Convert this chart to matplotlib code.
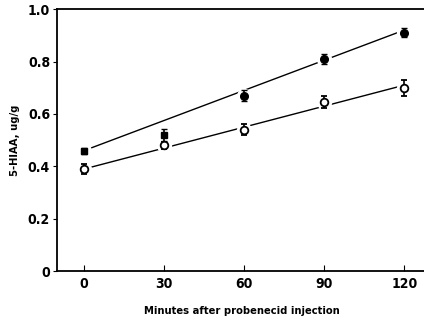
import numpy as np
import matplotlib.pyplot as plt

minutes = [0, 30, 60, 90, 120]
# filled symbols (upper series)
upper = [0.46, 0.52, 0.67, 0.81, 0.91]
upper_err = [0.012, 0.022, 0.02, 0.02, 0.018]
# open symbols (lower series)
lower = [0.39, 0.48, 0.54, 0.645, 0.70]
lower_err = [0.02, 0.015, 0.02, 0.022, 0.03]
# regression lines (value at 0 and 120 min)
fit_x = [0, 120]
upper_fit = [0.46, 0.92]
lower_fit = [0.39, 0.71]

xticks = [0, 30, 60, 90, 120]
yticks = [0, 0.2, 0.4, 0.6, 0.8, 1.0]
ylabels = ['0', '0.2', '0.4', '0.6', '0.8', '1.0']

plt.rcParams['font.family'] = ['DejaVu Sans']
plt.rcParams['font.stretch'] = 'condensed'
plt.rcParams['font.weight'] = 'bold'

fig = plt.figure(figsize=(4.24, 3.22), dpi=100)
ax = fig.add_axes([0.1344, 0.157, 0.87, 0.815])

ax.plot(fit_x, upper_fit, color='black', lw=1.0, zorder=1)
ax.plot(fit_x, lower_fit, color='black', lw=1.0, zorder=1)

# white halo behind markers, leaves a gap in the lines
ax.plot(minutes, upper, 'o', ms=10, color='white', zorder=2)
ax.plot(minutes, lower, 'o', ms=10, color='white', zorder=2)

ax.errorbar(minutes[:2], upper[:2], yerr=upper_err[:2], fmt='s', ms=5,
            color='black', capsize=2.5, elinewidth=1.2, zorder=4)
ax.errorbar(minutes[2:], upper[2:], yerr=upper_err[2:], fmt='o', ms=5.5,
            color='black', capsize=2.5, elinewidth=1.2, zorder=4)
ax.errorbar(minutes, lower, yerr=lower_err, fmt='o', ms=5.5, mfc='white',
            mec='black', mew=1.3, color='black', capsize=2.5,
            elinewidth=1.2, zorder=3)

ax.set_xlim(-10, 128)
ax.set_ylim(0, 1.0)
ax.set_xticks(xticks)
ax.set_yticks(yticks)
ax.set_yticklabels(ylabels)
ax.spines['right'].set_visible(False)
for s in ['left', 'bottom', 'top']:
    ax.spines[s].set_linewidth(1.3)
ax.tick_params(axis='x', direction='in', length=4, labelsize=10, pad=4)
ax.tick_params(axis='y', direction='out', length=3, labelsize=10, pad=2)

ax.set_ylabel('5-HIAA, ug/g', fontsize=8, fontweight='bold')
ax.yaxis.set_label_coords(-0.10, 0.5)
ax.set_xlabel('Minutes after probenecid injection', fontsize=8,
              fontweight='bold', labelpad=11)

fig.savefig('out.png', dpi=100)
